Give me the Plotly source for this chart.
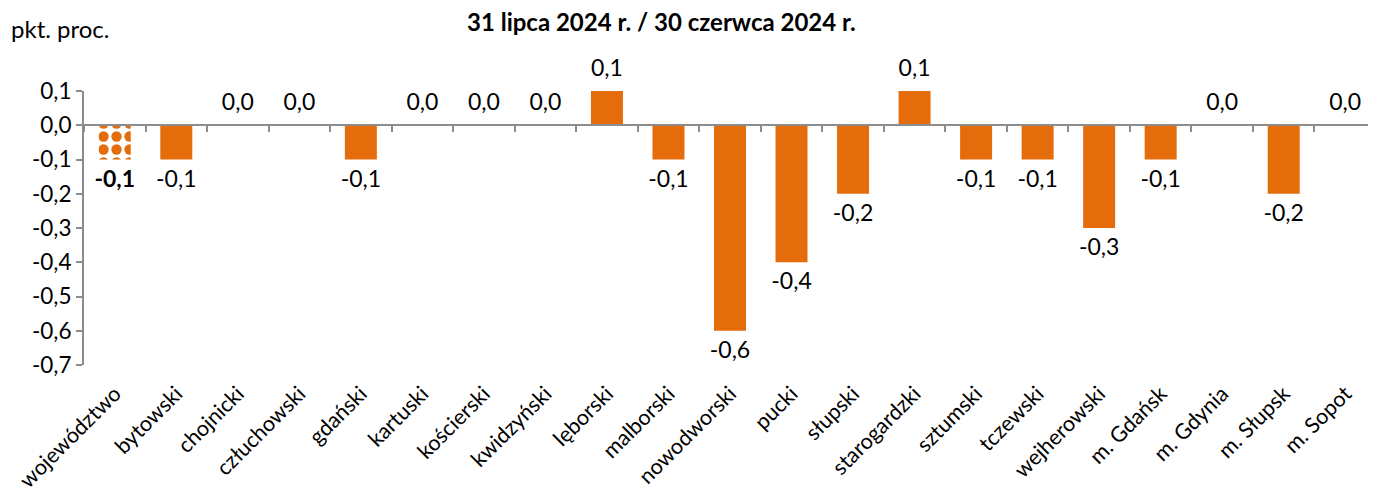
import plotly.graph_objects as go

categories = ["województwo", "bytowski", "chojnicki", "człuchowski", "gdański", "kartuski",
              "kościerski", "kwidzyński", "lęborski", "malborski", "nowodworski", "pucki",
              "słupski", "starogardzki", "sztumski", "tczewski", "wejherowski", "m. Gdańsk",
              "m. Gdynia", "m. Słupsk", "m. Sopot"]
values = [-0.1, -0.1, 0.0, 0.0, -0.1, 0.0, 0.0, 0.0, 0.1, -0.1, -0.6, -0.4,
          -0.2, 0.1, -0.1, -0.1, -0.3, -0.1, 0.0, -0.2, 0.0]
y_ticks = [0.1, 0.0, -0.1, -0.2, -0.3, -0.4, -0.5, -0.6, -0.7]

ORANGE = "#E46C0A"
FONT = "Lato"

def fmt(v):
    return f"{v:.1f}".replace(".", ",")

labels = [fmt(v) for v in values]
labels[0] = "<b>" + labels[0] + "</b>"

fig = go.Figure()
# region total (patterned)
fig.add_trace(go.Bar(
    x=categories[:1], y=values[:1],
    marker=dict(color="white", line=dict(width=0),
                pattern=dict(shape=".", fgcolor=ORANGE, bgcolor="white",
                             size=13, solidity=0.5, fillmode="replace")),
    hoverinfo="skip", showlegend=False,
))
# powiaty
fig.add_trace(go.Bar(
    x=categories[1:], y=values[1:],
    marker=dict(color=ORANGE, line=dict(width=0)),
    hoverinfo="skip", showlegend=False,
))
fig.add_trace(go.Scatter(
    x=categories, y=values, mode="markers+text", text=labels,
    textposition=["top center" if v >= 0 else "bottom center" for v in values],
    textfont=dict(family=FONT, size=23, color="black"),
    marker=dict(size=14, color="rgba(0,0,0,0)"),
    hoverinfo="skip", showlegend=False, cliponaxis=False,
))
# zero axis line with boundary ticks
fig.add_trace(go.Scatter(
    x=categories, y=[0] * len(categories), xaxis="x2", mode="none",
    hoverinfo="skip", showlegend=False,
))

ymin, ymax = min(y_ticks), max(y_ticks)
fig.update_layout(
    width=1376, height=488,
    margin=dict(l=76, r=8, t=83, b=131, autoexpand=False),
    paper_bgcolor="white", plot_bgcolor="white",
    font=dict(family=FONT, size=20, color="black"),
    barmode="overlay",
    bargap=0.48,
    separators=", ",
    xaxis=dict(type="category", categoryorder="array", categoryarray=categories,
               range=[-0.5, len(categories) - 0.5], automargin=False,
               showline=False, showgrid=False, ticks="", tickangle=-45,
               tickfont=dict(family=FONT, size=21.5), ticklabelstandoff=11),
    xaxis2=dict(type="category", categoryorder="array", categoryarray=categories,
                overlaying="x", anchor="free", position=(0 - ymin) / (ymax - ymin),
                range=[-0.5, len(categories) - 0.5], automargin=False,
                showline=True, linecolor="#8C8C8C", linewidth=2,
                ticks="outside", ticklen=6, tickcolor="#8C8C8C", tickwidth=2,
                tickson="boundaries", showticklabels=False, showgrid=False),
    yaxis=dict(range=[ymin, ymax], tickvals=y_ticks, ticktext=[fmt(v) for v in y_ticks],
               showline=True, linecolor="#8C8C8C", linewidth=2, automargin=False,
               ticks="outside", ticklen=6, tickcolor="#8C8C8C", tickwidth=2,
               showgrid=False, zeroline=False, tickfont=dict(family=FONT, size=22.5)),
    annotations=[
        dict(text="<b>31 lipca 2024 r. / 30 czerwca 2024 r.</b>", xref="paper", yref="paper",
             x=(653 - 76) / 1292, y=1, yshift=70, showarrow=False,
             font=dict(family=FONT, size=24), xanchor="center", yanchor="middle"),
        dict(text="pkt. proc.", xref="paper", yref="paper", x=0, xshift=-75, y=1, yshift=63,
             showarrow=False, font=dict(family=FONT, size=24), xanchor="left", yanchor="middle"),
    ],
)
fig.write_html("out.html")
